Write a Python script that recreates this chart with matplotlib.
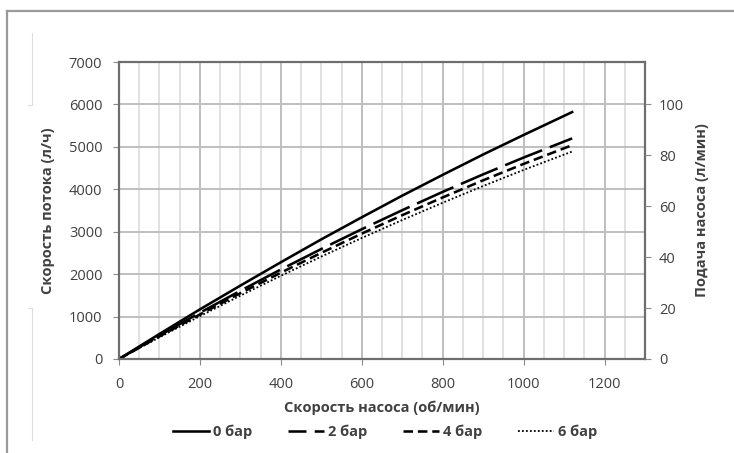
import numpy as np
import matplotlib.pyplot as plt
from matplotlib.lines import Line2D
from matplotlib.ticker import MultipleLocator

plt.rcParams['font.family'] = ['Open Sans', 'DejaVu Sans']

# pump speed, rpm
speed = [0, 100, 200, 300, 400, 500, 600, 700, 800, 900, 1000, 1120]
# flow rate, l/h
flow_0bar = [0, 590, 1170, 1730, 2280, 2820, 3340, 3850, 4340, 4820, 5280, 5820]
flow_2bar = [0, 553, 1090, 1608, 2110, 2593, 3059, 3507, 3939, 4352, 4748, 5200]
flow_4bar = [0, 533, 1050, 1551, 2035, 2502, 2955, 3390, 3808, 4212, 4598, 5040]
flow_6bar = [0, 513, 1010, 1493, 1961, 2414, 2852, 3275, 3683, 4077, 4456, 4890]
labels = ['0 бар', '2 бар', '4 бар', '6 бар']

W, H = 734, 453
fig = plt.figure(figsize=(W / 100, H / 100), dpi=100)
ax = fig.add_axes([119 / W, 1 - 359 / H, (645 - 119) / W, (359 - 62) / H])

txt = '#404040'
lw = 1.85
ax.plot(speed, flow_0bar, color='black', lw=lw, label=labels[0])
ax.plot(speed, flow_2bar, color='black', lw=lw, dashes=(15.5, 3.2), label=labels[1])
ax.plot(speed, flow_4bar, color='black', lw=lw, dashes=(3.7, 1.9), label=labels[2])
ax.plot(speed, flow_6bar, color='black', lw=1.3, dashes=(1, 1.2), label=labels[3])

ax.set_xlim(0, 1300)
ax.set_ylim(0, 7000)
ax.xaxis.set_major_locator(MultipleLocator(200))
ax.xaxis.set_minor_locator(MultipleLocator(50))
ax.yaxis.set_major_locator(MultipleLocator(1000))
ax.grid(which='major', color='#bfbfbf', lw=1.4)
ax.grid(which='minor', axis='x', color='#dcdcdc', lw=1.2)
ax.set_axisbelow(True)
for s in ax.spines.values():
    s.set_color('#6e6e6e')
    s.set_linewidth(1.6)
ax.tick_params(which='major', colors='#8c8c8c', labelcolor=txt, labelsize=10.5, length=4)
ax.tick_params(axis='y', pad=8)
ax.tick_params(axis='x', pad=9)
ax.tick_params(which='minor', length=0)

ax2 = ax.twinx()
ax2.set_ylim(0, 7000 / 60)
ax2.set_yticks([0, 20, 40, 60, 80, 100])
for s in ax2.spines.values():
    s.set_visible(False)
ax2.tick_params(colors='#8c8c8c', labelcolor=txt, labelsize=10.5, length=4, pad=6)

ax.set_xlabel('Скорость насоса (об/мин)', fontsize=10.5, fontweight='bold', color=txt, labelpad=6)
ax.set_ylabel('Скорость потока (л/ч)', fontsize=10.5, fontweight='bold', color=txt, labelpad=10)
ax2.set_ylabel('Подача насоса (л/мин)', fontsize=10.5, fontweight='bold', color=txt, labelpad=8)

leg = fig.legend(loc='center', bbox_to_anchor=(385 / W, 0.046), ncol=4, frameon=False,
                 handlelength=2.5, columnspacing=2.45, handletextpad=0.25,
                 labelcolor=txt, prop={'weight': 'bold', 'size': 10.5})
leg.get_lines()[1].set_linestyle((8.5, (15.5, 3.2)))

# outer chart frame and faint stray lines
fig.add_artist(Line2D([7 / W, 1], [1 - 11 / H, 1 - 11 / H], color='#9a9a9a', lw=1.6))
fig.add_artist(Line2D([7 / W, 7 / W], [0, 1 - 11 / H], color='#9a9a9a', lw=1.6))
fig.add_artist(Line2D([32 / W, 32 / W], [1 - 33 / H, 1 - 105 / H], color='#dddddd', lw=0.8))
fig.add_artist(Line2D([28 / W, 32 / W], [1 - 105 / H, 1 - 105 / H], color='#dddddd', lw=0.8))
fig.add_artist(Line2D([32 / W, 32 / W], [1 - 308 / H, 1 - 440 / H], color='#dddddd', lw=0.8))
fig.add_artist(Line2D([28 / W, 32 / W], [1 - 308 / H, 1 - 308 / H], color='#dddddd', lw=0.8))

fig.savefig('out.png', dpi=100)
